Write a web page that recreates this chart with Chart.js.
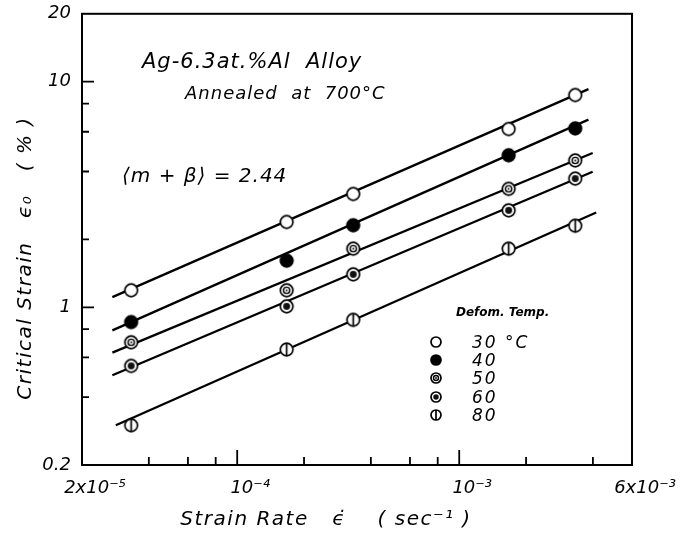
<!DOCTYPE html>
<html>
<head>
<meta charset="utf-8">
<script src="https://cdn.jsdelivr.net/npm/chart.js@4.4.1/dist/chart.umd.min.js"></script>
<style>
  html, body { margin: 0; padding: 0; background: #fff; }
  canvas { display: block; }
</style>
</head>
<body>
<canvas id="chart" width="682" height="535"></canvas>
<script>
// strain rate (1/s) for the five test rates
const strainRates = [3.33e-5, 1.67e-4, 3.33e-4, 1.67e-3, 3.33e-3];
const tempLabels = ['30 °C', '40', '50', '60', '80'];

// critical strain (%) per deformation temperature
const strain30 = [1.19, 2.39, 3.18, 6.17, 8.73];
const strain40 = [0.86, 1.61, 2.31, 4.72, 6.21];
const strain50 = [0.70, 1.19, 1.82, 3.35, 4.48];
const strain60 = [0.55, 1.01, 1.40, 2.69, 3.72];
const strain80 = [0.30, 0.65, 0.88, 1.82, 2.30];

// fitted lines, end points
const fitX30 = [2.74e-5, 3.82e-3], fitY30 = [1.11, 9.27];
const fitX40 = [2.74e-5, 3.82e-3], fitY40 = [0.79, 6.79];
const fitX50 = [2.74e-5, 3.99e-3], fitY50 = [0.63, 4.83];
const fitX60 = [2.74e-5, 3.99e-3], fitY60 = [0.50, 3.99];
const fitX80 = [2.84e-5, 4.14e-3], fitY80 = [0.30, 2.63];

// axis ticks
const xTickVals = [2e-5, 1e-4, 1e-3, 6e-3];
const xTickLabels = ['2x10⁻⁵', '10⁻⁴', '10⁻³', '6x10⁻³'];
const yTickVals = [0.2, 1, 10, 20];
const yTickLabels = ['0.2', '1', '10', '20'];
const xMinor = [4e-5, 6e-5, 8e-5, 2e-4, 4e-4, 6e-4, 8e-4, 2e-3, 4e-3];
const xMajor = [1e-4, 1e-3];
const yMinor = [0.4, 0.6, 0.8, 2, 4, 6, 8];
const yMajor = [1, 10];

const FONT = '"DejaVu Sans", sans-serif';

function makeMarker(kind, r) {
  const c = document.createElement('canvas');
  const s = Math.ceil(2 * r + 4);
  c.width = s; c.height = s;
  const g = c.getContext('2d');
  const m = s / 2;
  g.lineWidth = 1.7;
  g.strokeStyle = '#000';
  g.fillStyle = '#fff';
  g.beginPath(); g.arc(m, m, r, 0, Math.PI * 2);
  if (kind === 'filled') { g.fillStyle = '#000'; }
  g.fill(); g.stroke();
  if (kind === 'ring') {
    g.beginPath(); g.arc(m, m, r * 0.5, 0, Math.PI * 2); g.lineWidth = 1.4; g.stroke();
    g.beginPath(); g.arc(m, m, 0.9, 0, Math.PI * 2); g.fillStyle = '#000'; g.fill();
  }
  if (kind === 'dot') {
    g.beginPath(); g.arc(m, m, r * 0.55, 0, Math.PI * 2); g.fillStyle = '#111'; g.fill();
  }
  if (kind === 'bar') {
    g.beginPath(); g.moveTo(m, m - r); g.lineTo(m, m + r); g.lineWidth = 1.7; g.stroke();
  }
  return c;
}

const kinds = ['open', 'filled', 'ring', 'dot', 'bar'];
const markers = kinds.map(k => makeMarker(k, 6.3));
const legendMarkers = kinds.map(k => makeMarker(k, 5));

const series = [strain30, strain40, strain50, strain60, strain80];
const fits = [[fitX30, fitY30], [fitX40, fitY40], [fitX50, fitY50], [fitX60, fitY60], [fitX80, fitY80]];

const datasets = [];
fits.forEach(([fx, fy], i) => {
  datasets.push({
    type: 'line', label: 'fit ' + tempLabels[i], order: 2,
    data: fx.map((x, j) => ({ x, y: fy[j] })),
    borderColor: '#000', borderWidth: 2.3, pointRadius: 0, fill: false, tension: 0,
  });
});
series.forEach((vals, i) => {
  datasets.push({
    type: 'scatter', label: tempLabels[i], order: 1,
    data: vals.map((y, j) => ({ x: strainRates[j], y })),
    pointStyle: markers[i], pointRadius: 6, showLine: false,
  });
});

const decorations = {
  id: 'decorations',
  afterDatasetsDraw(chart) {
    const { ctx, chartArea: a, scales: { x, y } } = chart;
    ctx.save();
    ctx.strokeStyle = '#000';
    ctx.lineWidth = 2;
    ctx.strokeRect(a.left, a.top, a.right - a.left, a.bottom - a.top);

    // inward tick marks
    ctx.lineWidth = 1.8;
    ctx.beginPath();
    xMinor.forEach(v => { const px = x.getPixelForValue(v); ctx.moveTo(px, a.bottom); ctx.lineTo(px, a.bottom - 8); });
    xMajor.forEach(v => { const px = x.getPixelForValue(v); ctx.moveTo(px, a.bottom); ctx.lineTo(px, a.bottom - 15); });
    yMinor.forEach(v => { const py = y.getPixelForValue(v); ctx.moveTo(a.left, py); ctx.lineTo(a.left + 7, py); });
    yMajor.forEach(v => { const py = y.getPixelForValue(v); ctx.moveTo(a.left, py); ctx.lineTo(a.left + 12, py); });
    ctx.stroke();

    ctx.fillStyle = '#000';
    ctx.textAlign = 'left';
    ctx.textBaseline = 'alphabetic';
    ctx.letterSpacing = '1px';
    ctx.font = `italic 21px ${FONT}`;
    ctx.fillText('Ag-6.3at.%Al  Alloy', 142, 68);
    ctx.font = `italic 18px ${FONT}`;
    ctx.fillText('Annealed  at  700°C', 185, 99);
    ctx.font = `italic 20px ${FONT}`;
    ctx.fillText('⟨m + β⟩ = 2.44', 122, 182);

    // legend
    ctx.letterSpacing = '0px';
    ctx.font = `italic bold 12px ${FONT}`;
    ctx.fillText('Defom. Temp.', 456, 316);
    const rows = [342, 360, 378, 397, 415];
    ctx.font = `italic 17px ${FONT}`;
    ctx.letterSpacing = '2px';
    rows.forEach((ry, i) => {
      const m = legendMarkers[i];
      ctx.drawImage(m, 436 - m.width / 2, ry - m.height / 2);
      ctx.fillText(tempLabels[i], 472, ry + 6);
    });

    // axis titles
    ctx.letterSpacing = '1.5px';
    ctx.font = `italic 20px ${FONT}`;
    ctx.textAlign = 'center';
    ctx.fillText('Strain Rate   ϵ̇    ( sec⁻¹ )', 326, 525);
    ctx.save();
    ctx.translate(31, 258);
    ctx.rotate(-Math.PI / 2);
    ctx.fillText('Critical Strain   ϵ₀   ( % )', 0, 0);
    ctx.restore();
    ctx.restore();
  }
};

new Chart(document.getElementById('chart'), {
  type: 'scatter',
  data: { datasets },
  options: {
    responsive: false,
    animation: false,
    layout: { padding: { top: 13, right: 50, left: 0, bottom: 0 } },
    plugins: { legend: { display: false }, tooltip: { enabled: false } },
    scales: {
      x: {
        type: 'logarithmic', min: 2e-5, max: 6e-3,
        grid: { display: false }, border: { display: false },
        afterBuildTicks: s => { s.ticks = xTickVals.map(v => ({ value: v })); },
        afterFit: s => { s.height = 70; },
        ticks: {
          autoSkip: false, maxRotation: 0, padding: 5, labelOffset: 13, color: '#000',
          font: { family: FONT, size: 18, style: 'italic' },
          callback: (v, i) => xTickLabels[i],
        },
      },
      y: {
        type: 'logarithmic', min: 0.2, max: 20,
        grid: { display: false }, border: { display: false },
        afterBuildTicks: s => { s.ticks = yTickVals.map(v => ({ value: v })); },
        afterFit: s => { s.width = 82; },
        ticks: {
          autoSkip: false, padding: 3, color: '#000',
          font: { family: FONT, size: 18, style: 'italic' },
          callback: (v, i) => yTickLabels[i],
        },
      },
    },
  },
  plugins: [decorations],
});
</script>
</body>
</html>
